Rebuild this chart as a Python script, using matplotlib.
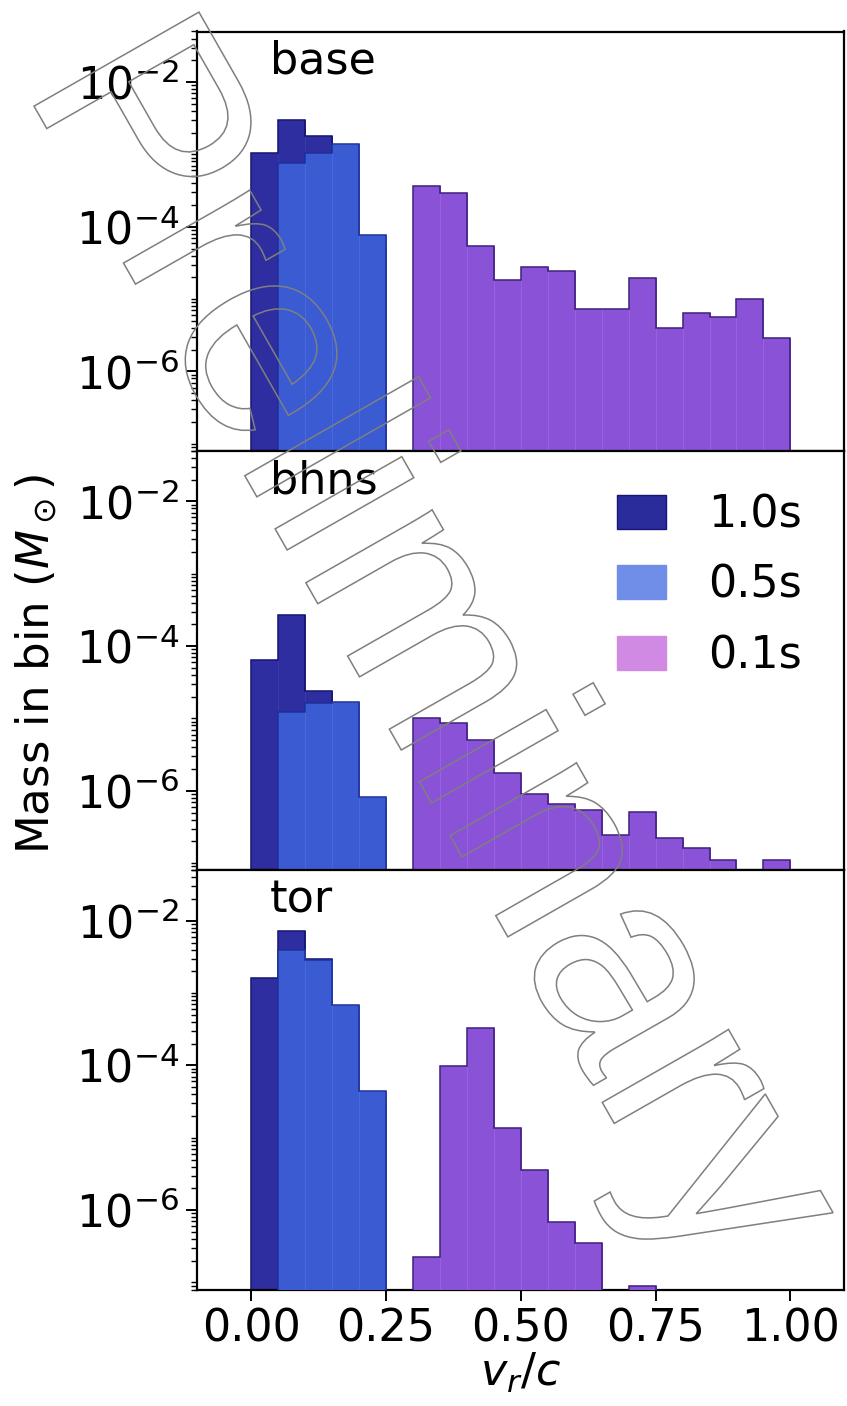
import numpy as np
import matplotlib
matplotlib.use('Agg')
import matplotlib.pyplot as plt
from matplotlib.ticker import LogLocator, FixedLocator, NullFormatter, LogFormatterSciNotation
from matplotlib.patches import Patch, PathPatch
from matplotlib.textpath import TextPath
from matplotlib.font_manager import FontProperties
from matplotlib.transforms import Affine2D, IdentityTransform

# ---------------- data ----------------
bin_edges = np.round(np.arange(0.0, 1.0001, 0.05), 2)   # 20 bins of width 0.05
labels = ["1.0s", "0.5s", "0.1s"]
panel_names = ["base", "bhns", "tor"]

base_10 = [1.03e-3, 2.96e-3, 1.78e-3, 1.0e-3, 5.0e-5] + [0] * 15
base_05 = [0, 7.5e-4, 1.03e-3, 1.41e-3, 7.7e-5] + [0] * 15
base_01 = [0] * 6 + [3.64e-4, 2.94e-4, 5.42e-5, 1.84e-5, 2.81e-5, 2.47e-5, 7.2e-6,
                     7.2e-6, 1.96e-5, 4.0e-6, 6.5e-6, 5.7e-6, 1.0e-5, 2.9e-6]

bhns_10 = [6.4e-5, 2.65e-4, 2.39e-5, 1.5e-5, 6.0e-7] + [0] * 15
bhns_05 = [0, 1.24e-5, 1.65e-5, 1.7e-5, 8.1e-7] + [0] * 15
bhns_01 = [0] * 6 + [1.03e-5, 8.6e-6, 5.05e-6, 1.75e-6, 9.0e-7, 6.6e-7, 5.5e-7,
                     2.45e-7, 5.1e-7, 2.2e-7, 1.6e-7, 1.12e-7, 0, 1.12e-7]

tor_10 = [1.62e-3, 7.14e-3, 3.0e-3, 5.0e-4, 3.0e-5] + [0] * 15
tor_05 = [0, 3.98e-3, 2.85e-3, 6.9e-4, 4.5e-5] + [0] * 15
tor_01 = [0] * 6 + [2.28e-7, 9.8e-5, 3.28e-4, 1.38e-5, 3.56e-6, 6.8e-7, 3.47e-7,
                    0, 9.06e-8, 0, 0, 0, 0, 0]

panels = [(base_10, base_05, base_01),
          (bhns_10, bhns_05, bhns_01),
          (tor_10, tor_05, tor_01)]

yticks = [1e-6, 1e-4, 1e-2]
ylim = (8e-8, 5e-2)
xlim = (-0.1, 1.1)
xticks = [0.0, 0.25, 0.5, 0.75, 1.0]
xticklabels = ["0.00", "0.25", "0.50", "0.75", "1.00"]

# ---------------- style ----------------
fill_colors = ["#2e2ea0", "#3b5bd2", "#8a52d6"]
seam_colors = ["#3a3ab2", "#4a6ae0", "#9a62e2"]
edge_colors = ["#10106e", "#1d2f98", "#3a1d7a"]
legend_colors = ["#2b2c9c", "#6e8ee8", "#d18ae4"]
legend_edges = ["#15157a", "#6e8ee8", "#d18ae4"]
FS = 32
BOT = 1e-12

W, H = 847, 1406
fig = plt.figure(figsize=(W / 100, H / 100), dpi=100)
left, right = 197.3 / W, 844.3 / W
top, bottom = 1 - 31.5 / H, 1 - 1289.5 / H
ph = (top - bottom) / 3

axes = []
for i in range(3):
    ax = fig.add_axes([left, top - (i + 1) * ph, right - left, ph])
    axes.append(ax)

width = bin_edges[1] - bin_edges[0]
lefts = bin_edges[:-1]
for i, ax in enumerate(axes):
    ax.set_yscale('log')
    for j, vals in enumerate(panels[i]):
        v = np.asarray(vals, dtype=float)
        m = v > 0
        ax.bar(lefts[m], v[m], width=width, align='edge', color=fill_colors[j],
               edgecolor=seam_colors[j], linewidth=0.6, zorder=2 + j)
        ax.stairs(np.where(m, v, BOT), bin_edges, baseline=BOT, color=edge_colors[j],
                  linewidth=1.1, zorder=2 + j)
    ax.set_xlim(*xlim)
    ax.set_ylim(*ylim)
    ax.yaxis.set_major_locator(FixedLocator(yticks))
    ax.yaxis.set_major_formatter(LogFormatterSciNotation())
    ax.yaxis.set_minor_locator(LogLocator(base=10, subs=np.arange(1, 10), numticks=100))
    ax.yaxis.set_minor_formatter(NullFormatter())
    ax.set_xticks(xticks)
    ax.tick_params(axis='both', which='major', labelsize=FS, length=8, width=1.4,
                   pad=5, color='black')
    ax.tick_params(axis='y', which='minor', length=4.5, width=1.0)
    for s in ax.spines.values():
        s.set_linewidth(1.6)
    if i < 2:
        ax.tick_params(axis='x', labelbottom=False)
    ax.text(0.1124, 0.899, panel_names[i], transform=ax.transAxes, fontsize=FS,
            ha='left', va='baseline', zorder=10)

axes[2].set_xticklabels(xticklabels)
axes[2].set_xlabel(r"$v_r/c$", fontsize=FS, labelpad=0)
fig.text(36 / W, 1 - 664 / H, r"Mass in bin ($M_\odot$)", rotation=90, fontsize=32.5,
         ha='center', va='center')

handles = [Patch(facecolor=legend_colors[k], edgecolor=legend_edges[k], linewidth=1.0)
           for k in range(3)]
axes[1].legend(handles, labels, loc='upper right', frameon=False, fontsize=FS,
               handlelength=1.1, handleheight=0.8, handletextpad=0.95,
               labelspacing=0.62, borderaxespad=0.55, borderpad=0.4)

# ---------------- watermark ----------------
fp = FontProperties(family='Liberation Sans')
tp = TextPath((0, 0), "Preliminary", size=276, prop=fp)
tr = Affine2D().rotate_deg(-60.3).translate(22.8, H - 86.5)
wm = PathPatch(tr.transform_path(tp), facecolor='none', edgecolor='#7f7f7f',
               linewidth=1.1, transform=IdentityTransform(), zorder=100)
fig.add_artist(wm)

fig.savefig("out.png", dpi=100)
